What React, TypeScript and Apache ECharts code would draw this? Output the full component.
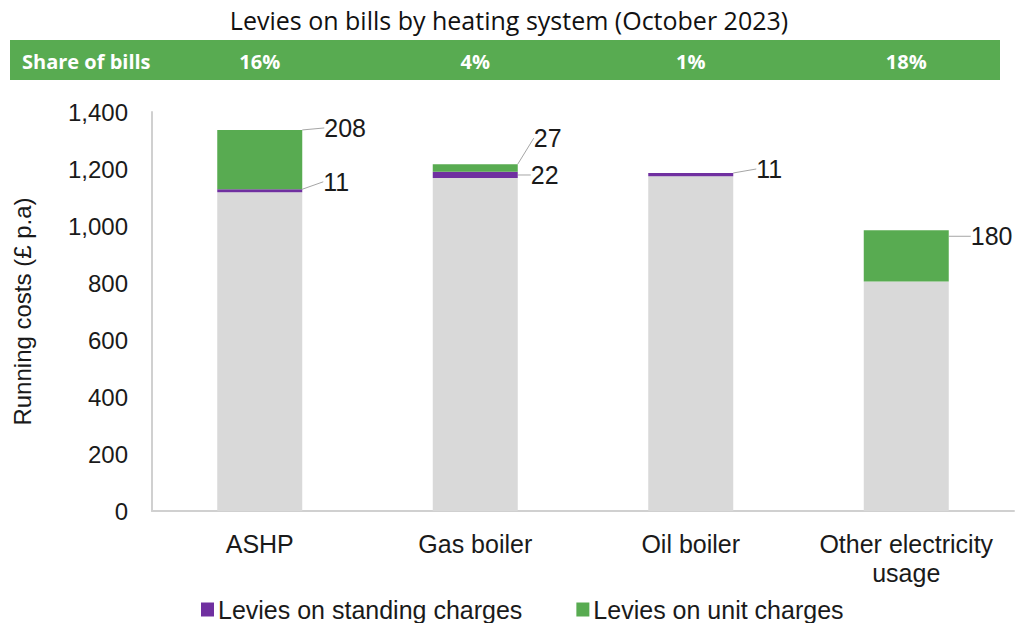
import React, { useEffect, useRef } from "react";
import * as echarts from "echarts";

const categories = ["ASHP", "Gas boiler", "Oil boiler", "Other electricity\nusage"];
const shareOfBills = ["16%", "4%", "1%", "18%"];
const baseCosts = [1118, 1168, 1175, 805];
const standingLevies: (number | string)[] = [11, 22, 11, "-"];
const unitLevies: (number | string)[] = [208, 27, "-", 180];
const yTicks = { min: 0, max: 1400, interval: 200 };

const FONT = "'Liberation Sans', Arial, sans-serif";
const HEAD_FONT = "'Open Sans', 'Noto Sans', sans-serif";
const GREY = "#D9D9D9";
const PURPLE = "#7030A0";
const GREEN = "#58AB51";
const LINE = "#A6A6A6";
const TEXT = "#1a1a1a";

export default function App() {
  const ref = useRef<HTMLDivElement>(null);
  useEffect(() => {
    if (!ref.current) return;
    const chart = echarts.init(ref.current, undefined, { renderer: "svg" });

    const layout = (p: any) => {
      const r = p.rect;
      const right = r.x + r.width;
      const cx = r.x + r.width / 2;
      const top = r.y;
      const mid = r.y + r.height / 2;
      if (p.seriesIndex === 2) {
        if (p.dataIndex === 0) {
          const ly = top - 2;
          return { x: right + 22, y: ly, align: "left", verticalAlign: "middle",
            labelLinePoints: [[cx, top], [right + 16, ly], [right + 20, ly]] };
        }
        if (p.dataIndex === 1) {
          const ly = top - 26;
          return { x: right + 16, y: ly, align: "left", verticalAlign: "middle",
            labelLinePoints: [[cx + 2, top], [right + 2, ly], [right + 12, ly]] };
        }
        const ly = top + 6;
        return { x: right + 22, y: ly, align: "left", verticalAlign: "middle",
          labelLinePoints: [[right, top + 26], [right + 7, ly], [right + 17, ly]] };
      }
      if (p.dataIndex === 0) {
        const ly = mid - 9;
        return { x: right + 21, y: ly, align: "left", verticalAlign: "middle",
          labelLinePoints: [[right, mid], [right + 15, ly], [right + 20, ly]] };
      }
      if (p.dataIndex === 1) {
        return { x: right + 13, y: mid, align: "left", verticalAlign: "middle",
          labelLinePoints: [[right, mid], [right + 11, mid]] };
      }
      const ly = top - 4;
      return { x: right + 23, y: ly, align: "left", verticalAlign: "middle",
        labelLinePoints: [[cx, top], [right + 20, ly - 1]] };
    };

    const labelCfg = {
      show: true,
      position: "right",
      fontFamily: FONT,
      fontSize: 25,
      color: TEXT,
    };
    const labelLineCfg = { show: true, lineStyle: { color: LINE, width: 1 } };

    chart.setOption({
      animation: false,
      title: {
        text: "Levies on bills by heating system (October 2023)",
        left: "center",
        top: 2,
        textStyle: { fontFamily: HEAD_FONT, fontSize: 25, fontWeight: "normal", color: "#111" },
      },
      graphic: [
        { type: "rect", z: -10, shape: { x: 10, y: 40, width: 990, height: 40 }, style: { fill: GREEN } },
        {
          type: "text", z: 100, x: 22, y: 61,
          style: { text: "Share of bills", fill: "#fff", font: `bold 20px ${HEAD_FONT}`, verticalAlign: "middle" },
        },
      ],
      legend: {
        data: ["Levies on standing charges", "Levies on unit charges"],
        top: 592,
        left: 196,
        icon: "rect",
        itemWidth: 13,
        itemHeight: 14,
        itemGap: 54,
        textStyle: { fontFamily: FONT, fontSize: 25, color: TEXT, padding: [0, 0, 0, -1] },
      },
      grid: { left: 152, right: 4, top: 112, bottom: 112, containLabel: false },
      xAxis: [
        {
          type: "category",
          data: categories,
          axisLine: { show: true, lineStyle: { color: "#D0D0D0", width: 2 } },
          axisTick: { show: false },
          axisLabel: { fontFamily: FONT, fontSize: 25, color: TEXT, margin: 18, lineHeight: 29, interval: 0 },
        },
        {
          type: "category",
          data: shareOfBills,
          position: "top",
          offset: 41,
          axisLine: { show: false },
          axisTick: { show: false },
          axisLabel: { fontFamily: HEAD_FONT, fontSize: 20, fontWeight: "bold", color: "#fff", margin: 0, interval: 0 },
        },
      ],
      yAxis: {
        type: "value",
        min: yTicks.min,
        max: yTicks.max,
        interval: yTicks.interval,
        name: "Running costs (£ p.a)",
        nameLocation: "middle",
        nameGap: 118,
        nameTextStyle: { fontFamily: FONT, fontSize: 24, color: TEXT },
        axisLine: { show: true, lineStyle: { color: "#D0D0D0", width: 2 } },
        axisTick: { show: false },
        splitLine: { show: false },
        axisLabel: {
          fontFamily: FONT, fontSize: 24, color: TEXT, margin: 24,
          formatter: (v: number) => v.toLocaleString("en-US"),
        },
      },
      series: [
        {
          name: "Base",
          type: "bar",
          stack: "total",
          barWidth: 85,
          data: baseCosts,
          itemStyle: { color: GREY },
          silent: true,
        },
        {
          name: "Levies on standing charges",
          type: "bar",
          stack: "total",
          barWidth: 85,
          data: standingLevies,
          itemStyle: { color: PURPLE },
          label: labelCfg,
          labelLine: labelLineCfg,
          labelLayout: layout,
        },
        {
          name: "Levies on unit charges",
          type: "bar",
          stack: "total",
          barWidth: 85,
          data: unitLevies,
          itemStyle: { color: GREEN },
          label: labelCfg,
          labelLine: labelLineCfg,
          labelLayout: layout,
        },
      ],
    });
    return () => chart.dispose();
  }, []);
  return (
    <div
      ref={ref}
      style={{ position: "fixed", left: 0, top: 0, width: 1018, height: 623, background: "#fff" }}
    />
  );
}
